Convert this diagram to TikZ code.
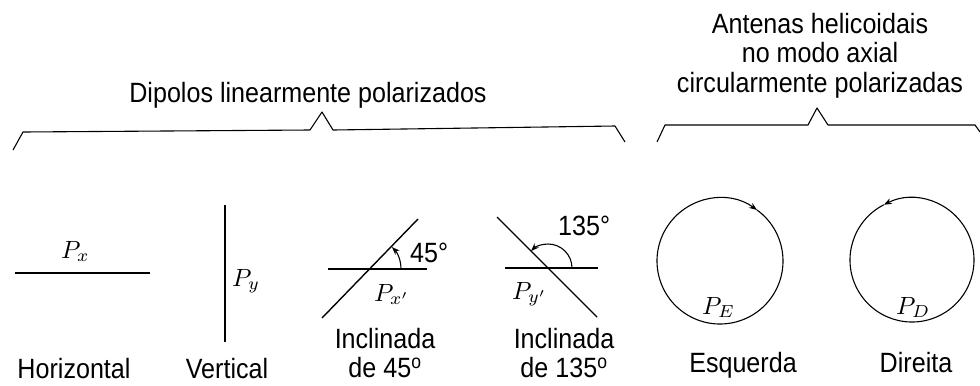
\documentclass[tikz,border=0pt]{standalone}
\usepackage{fontspec}
\setmainfont{Liberation Sans}[FakeStretch=0.9]
\usetikzlibrary{positioning, arrows.meta}
\newcommand{\bigsym}[1]{\scalebox{2.5}{$#1$}}

\begin{document}
\begin{tikzpicture}[x=1bp, y=-1bp,
  lbl/.style={font=\fontsize{28}{28.5}\selectfont, anchor=base, inner sep=0pt, align=center},
  sym/.style={anchor=base west, inner sep=0pt},
  dipole/.style={line width=1.4pt},
  refline/.style={line width=1.1pt},
  brace/.style={line width=1.1pt, line join=round},
  turn/.style={line width=1.1pt, -{Stealth[length=8pt, width=6pt]}},
]
  \useasboundingbox (0,0) rectangle (980,385);

  % group titles and braces
  \node[lbl] (tlin) at (308,102) {Dipolos linearmente polarizados};
  \node[lbl, font=\fontsize{28}{29.5}\selectfont] (tcirc) at (820,92) {Antenas helicoidais\\no modo axial\\circularmente polarizadas};
  \draw[brace] (13,150) -- (23,132) -- (310,130) -- (322,112) -- (333,130) -- (615,126) -- (625,142);
  \draw[brace] (657,142) -- (665,125) -- (808,125) -- (817,108) -- (828,125) -- (975,125) -- (980,132);

  % horizontal
  \draw[dipole] (15,273) -- (150,273);
  \node[sym] (px) at (61,258) {\bigsym{P_x}};
  \node[lbl] (hor) at (74,378) {Horizontal};

  % vertical
  \draw[dipole] (225,205) -- (225,342);
  \node[sym] (py) at (232,286) {\bigsym{P_y}};
  \node[lbl] (ver) at (227,378) {Vertical};

  % 45 degrees
  \coordinate (c45) at (370,269);
  \draw[refline] (328,269) -- (427,269);
  \draw[dipole] (322,318) -- (418,219);
  \draw[turn] (c45) ++(31,0) arc[start angle=0, end angle=-45, radius=31];
  \node[lbl, anchor=base west] (a45) at (410,262) {45°};
  \node[sym] (pxl) at (374,301) {\bigsym{P_{x'}}};
  \node[lbl] (inc45) at (385,377) {Inclinada\\de 45\textsuperscript{o}};

  % 135 degrees
  \coordinate (c135) at (548,268);
  \draw[refline] (505,268) -- (598,268);
  \draw[dipole] (497,217) -- (597,317);
  \draw[turn] (c135) ++(24,0) arc[start angle=0, end angle=-135, radius=24];
  \node[lbl, anchor=base west] (a135) at (558,235) {135°};
  \node[sym] (pyl) at (512,299) {\bigsym{P_{y'}}};
  \node[lbl] (inc135) at (564,377) {Inclinada\\de 135\textsuperscript{o}};

  % circular, left and right hand
  \coordinate (ce) at (720,261);
  \draw[turn] (ce) ++(-54:63) arc[start angle=-414, end angle=-54, radius=63];
  \node[sym] (pe) at (702,314) {\bigsym{P_E}};
  \node[lbl] (esq) at (743,372) {Esquerda};

  \coordinate (cd) at (912,260);
  \draw[turn] (cd) ++(243:62) arc[start angle=243, end angle=-117, radius=62];
  \node[sym] (pd) at (896,314) {\bigsym{P_D}};
  \node[lbl] (dir) at (916,372) {Direita};
\end{tikzpicture}
\end{document}
